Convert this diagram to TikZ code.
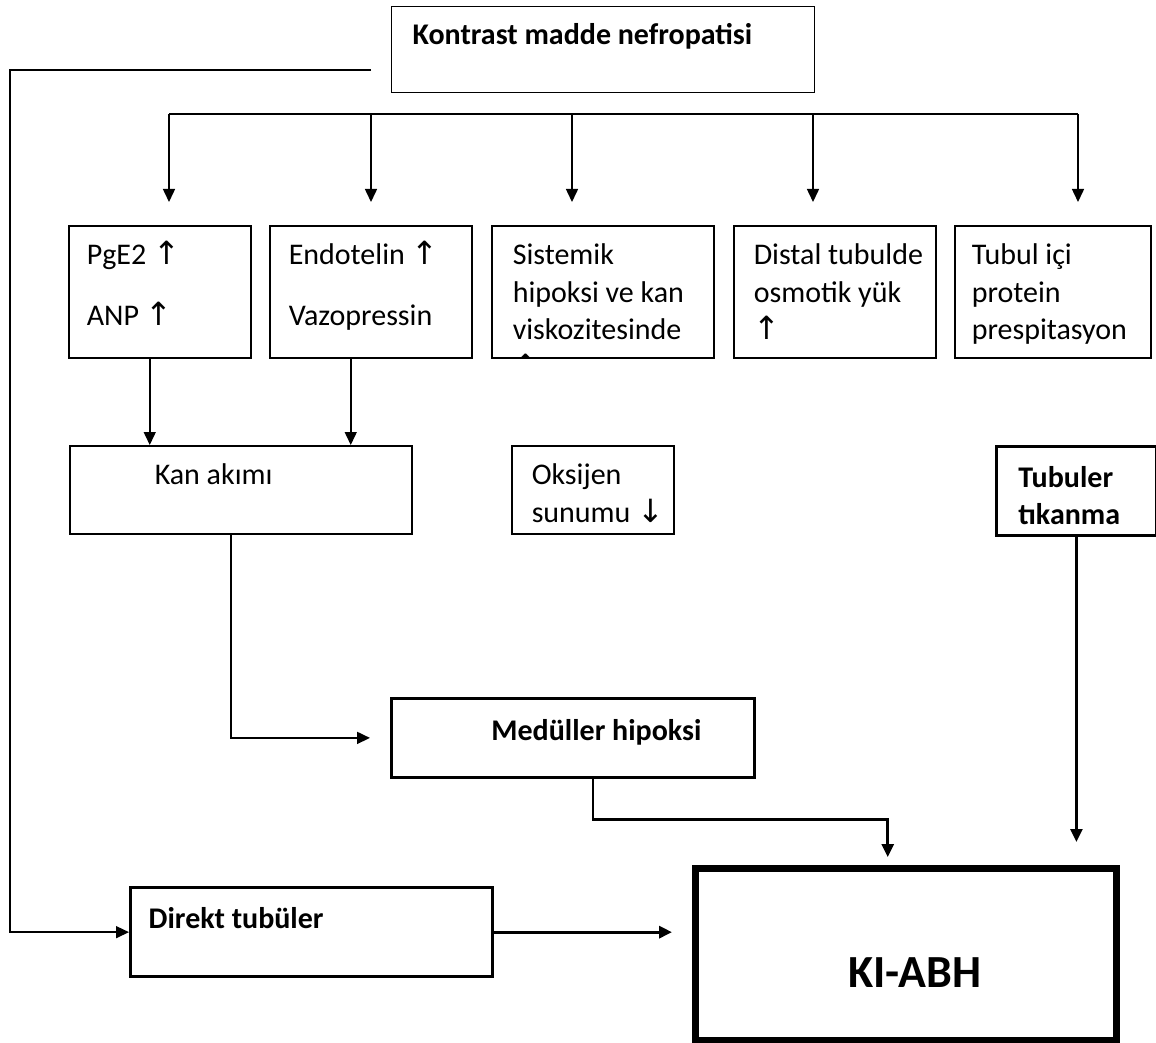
\documentclass[tikz,border=0pt]{standalone}
\usepackage{fontspec}
\setmainfont{Carlito}
\newfontfamily\symfont{DejaVu Sans}
\usetikzlibrary{arrows.meta}
\newcommand{\boxtext}[5]{\parbox[c][#2][t]{#1}{\leftskip=#3\relax\vspace*{#4}\strut#5}}
\newcommand{\arrup}{{\symfont\fontsize{32}{37.5}\selectfont ↑}}
\newcommand{\arrdown}{{\symfont\fontsize{32}{37.5}\selectfont ↓}}

\begin{document}
\begin{tikzpicture}[x=1pt, y=-1pt,
    box/.style={draw, line width=1.5pt, anchor=north west, inner sep=0pt},
    thickbox/.style={box, line width=2.8pt},
    arr/.style={-{Triangle[length=13pt,width=12pt]}, line width=1.5pt},
    font=\fontsize{30}{37.5}\selectfont]

    \useasboundingbox (0,0) rectangle (1156,1043);

    \node[box, line width=1.3pt] (kmn) at (391,6) {\boxtext{423pt}{86pt}{21pt}{11.75pt}{\bfseries Kontrast madde nefropatisi}};

    \node[box] (pge) at (68,225) {\boxtext{182pt}{132pt}{18pt}{12.75pt}{PgE2 \arrup\\[23.5pt]ANP \arrup}};
    \node[box] (endo) at (269,225) {\boxtext{202pt}{132pt}{19pt}{12.75pt}{Endotelin \arrup\\[23.5pt]Vazopressin}};
    \begin{scope}
        \clip (489,223) rectangle (715,358);
        \node[box] (sist) at (491,225) {\boxtext{222pt}{132pt}{21pt}{12.75pt}{Sistemik\\hipoksi ve kan\\viskozitesinde\\\arrup}};
    \end{scope}
    \node[box] (dist) at (733,225) {\boxtext{202pt}{132pt}{20pt}{12.75pt}{Distal tubulde\\osmotik yük\\\arrup}};
    \node[box] (tubi) at (954,225) {\boxtext{196pt}{132pt}{17pt}{12.75pt}{Tubul içi\\protein\\prespitasyon}};

    \node[box] (kan) at (69,445) {\boxtext{342pt}{88pt}{85pt}{12.75pt}{Kan akımı}};
    \node[box] (oks) at (511,445) {\boxtext{162pt}{88pt}{20pt}{12.75pt}{Oksijen\\sunumu \arrdown}};
    \node[thickbox] (tubt) at (995,445) {\boxtext{160pt}{89pt}{22pt}{14.75pt}{\bfseries Tubuler\\tıkanma}};

    \node[thickbox] (med) at (390,697) {\boxtext{363pt}{79pt}{100pt}{15.75pt}{\bfseries Medüller hipoksi}};
    \node[thickbox, line width=3.3pt] (dir) at (129,886) {\boxtext{362pt}{89pt}{18pt}{14.75pt}{\bfseries Direkt tubüler}};
    \node[box, line width=6.5pt] (ki) at (692,865) {\boxtext{421pt}{172pt}{153pt}{89pt}{\fontsize{46}{55}\selectfont\bfseries KI-ABH}};

    % left line down to Direkt tubüler
    \coordinate (kin) at (371,70);
    \draw[arr] (kin) -- (10,70) |- (dir.west);

    % bus to the five causes
    \draw[line width=1.5pt] (169,114) coordinate (bus1) -- (1078,114) coordinate (bus5);
    \foreach \x/\n in {169/pge, 371/endo, 572/sist, 813/dist, 1078/tubi}
        \draw[arr, shorten >=23pt] (\x,114) coordinate (b\n) -- (b\n |- \n.north);

    \draw[arr] ([xshift=-10pt]pge.south) -- ([xshift=-10pt]pge.south |- kan.north);
    \draw[arr] ([xshift=-20pt]endo.south) -- ([xshift=-20pt]endo.south |- kan.north);
    \draw[arr, line width=1.8pt, shorten >=20pt] ([xshift=-10pt]kan.south) |- (med.west);

    \draw[arr, line width=2.7pt, shorten >=8pt] ([xshift=20pt]med.south) -- ++(0,41) -| ([xshift=-18pt]ki.north);
    \draw[arr, line width=2.7pt, shorten >=23pt] (tubt.south) -- (tubt.south |- ki.north);
    \draw[arr, line width=3.3pt, shorten >=20pt] (dir.east) -- (dir.east -| ki.west);
\end{tikzpicture}
\end{document}
